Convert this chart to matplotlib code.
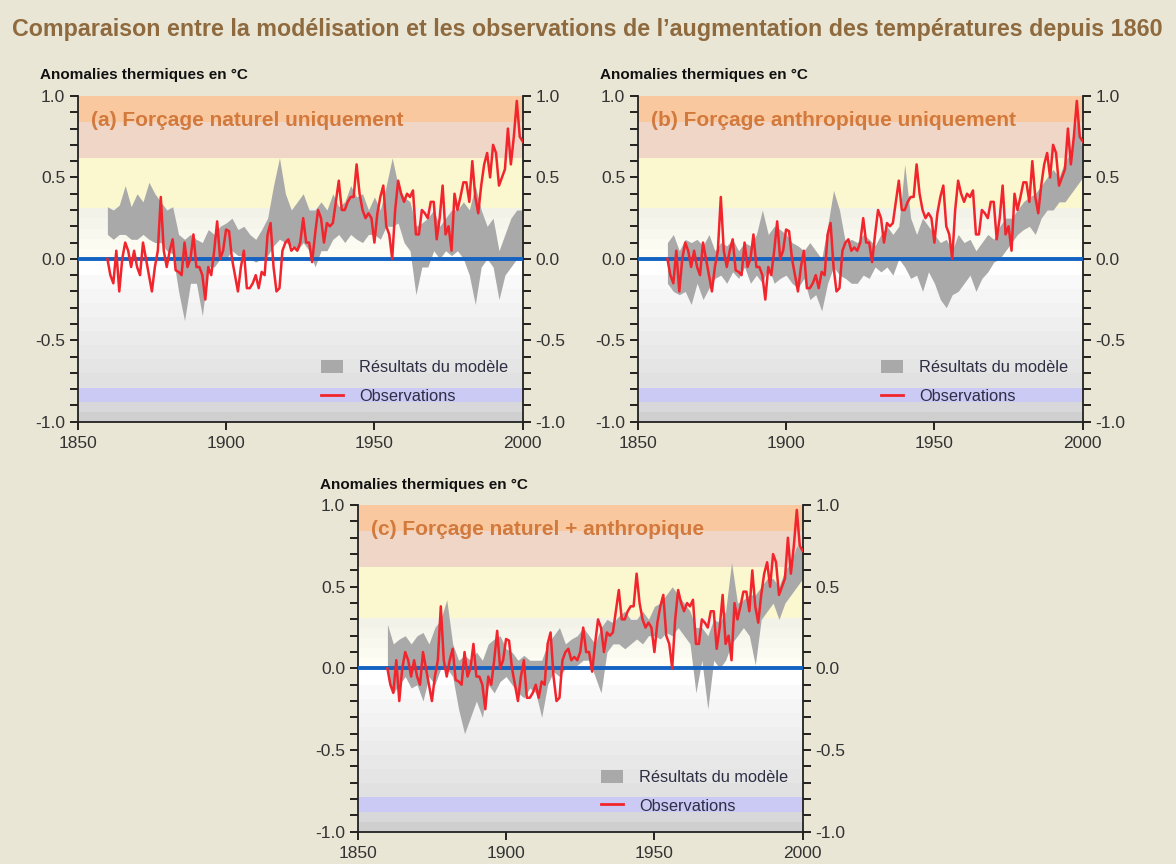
import numpy as np
import matplotlib.pyplot as plt
from matplotlib.patches import Patch
from matplotlib.lines import Line2D
from matplotlib.ticker import MultipleLocator

FONT = ['Liberation Sans Narrow', 'Liberation Sans', 'DejaVu Sans']
plt.rcParams['font.family'] = FONT

#%% data
obsYears = np.arange(1860, 2001)
observations = [
    0.00, -0.10, -0.15, 0.05, -0.20, 0.00, 0.10, 0.05, -0.05, 0.05,
    -0.05, -0.10, 0.10, 0.00, -0.10, -0.20, -0.05, 0.05, 0.38, 0.05,
    -0.05, 0.05, 0.12, -0.07, -0.08, -0.10, 0.10, -0.05, 0.00, 0.15,
    -0.05, -0.05, -0.10, -0.25, -0.05, -0.10, 0.05, 0.23, 0.00, 0.05,
    0.18, 0.17, 0.00, -0.10, -0.20, -0.05, 0.05, -0.18, -0.18, -0.15,
    -0.10, -0.18, -0.08, -0.10, 0.15, 0.22, -0.05, -0.20, -0.18, 0.05,
    0.10, 0.12, 0.05, 0.07, 0.05, 0.10, 0.25, 0.10, 0.10, -0.02,
    0.15, 0.30, 0.25, 0.10, 0.22, 0.20, 0.22, 0.35, 0.48, 0.30,
    0.30, 0.35, 0.38, 0.38, 0.58, 0.40, 0.30, 0.25, 0.28, 0.25,
    0.10, 0.28, 0.38, 0.45, 0.20, 0.15, 0.00, 0.30, 0.48, 0.40,
    0.35, 0.40, 0.38, 0.42, 0.15, 0.15, 0.30, 0.28, 0.25, 0.35,
    0.35, 0.12, 0.25, 0.45, 0.15, 0.20, 0.05, 0.40, 0.30, 0.38,
    0.47, 0.47, 0.35, 0.60, 0.38, 0.28, 0.45, 0.58, 0.65, 0.50,
    0.70, 0.65, 0.45, 0.50, 0.55, 0.80, 0.58, 0.75, 0.97, 0.75,
    0.72]

modelYears = np.arange(1860, 2001, 2)

natUpper = [0.32, 0.30, 0.33, 0.45, 0.32, 0.40, 0.35, 0.47, 0.40, 0.35,
            0.30, 0.32, 0.15, 0.12, 0.15, 0.12, 0.10, 0.18, 0.15, 0.20,
            0.22, 0.25, 0.18, 0.20, 0.15, 0.12, 0.18, 0.25, 0.45, 0.62,
            0.40, 0.30, 0.35, 0.40, 0.30, 0.30, 0.35, 0.30, 0.40, 0.32,
            0.35, 0.45, 0.38, 0.40, 0.30, 0.38, 0.30, 0.45, 0.62, 0.45,
            0.38, 0.35, 0.20, 0.22, 0.25, 0.30, 0.20, 0.25, 0.30, 0.30,
            0.35, 0.30, 0.45, 0.30, 0.20, 0.25, 0.05, 0.15, 0.25, 0.30,
            0.30]
natLower = [0.15, 0.12, 0.15, 0.15, 0.12, 0.12, 0.15, 0.12, 0.10, 0.10,
            0.05, 0.03, -0.20, -0.38, -0.15, -0.15, -0.35, -0.05, -0.05, 0.00,
            0.00, 0.05, 0.02, 0.02, 0.00, -0.02, 0.00, 0.02, 0.08, 0.12,
            0.10, 0.08, 0.05, 0.10, 0.05, -0.05, 0.05, 0.05, 0.12, 0.15,
            0.10, 0.15, 0.12, 0.10, 0.15, 0.15, 0.12, 0.20, 0.20, 0.22,
            0.10, 0.05, -0.22, -0.05, -0.05, 0.05, 0.00, 0.05, 0.02, 0.05,
            0.00, -0.10, -0.28, -0.05, 0.00, -0.05, -0.25, -0.10, -0.05, 0.00,
            0.00]

antUpper = [0.10, 0.15, 0.05, 0.12, 0.10, 0.12, 0.08, 0.15, 0.05, 0.10,
            0.08, 0.12, 0.05, 0.10, 0.08, 0.15, 0.30, 0.15, 0.20, 0.18,
            0.15, 0.10, 0.08, 0.05, 0.10, 0.05, 0.00, 0.20, 0.42, 0.30,
            0.10, 0.12, 0.10, 0.15, 0.12, 0.08, 0.15, 0.20, 0.15, 0.20,
            0.58, 0.25, 0.15, 0.25, 0.20, 0.15, 0.10, 0.12, 0.05, 0.15,
            0.10, 0.12, 0.05, 0.10, 0.15, 0.12, 0.20, 0.25, 0.25, 0.30,
            0.35, 0.38, 0.40, 0.45, 0.50, 0.55, 0.50, 0.60, 0.65, 0.85,
            0.65]
antLower = [-0.15, -0.20, -0.22, -0.20, -0.28, -0.15, -0.25, -0.18, -0.12, -0.10,
            -0.15, -0.08, -0.12, -0.05, -0.15, -0.10, -0.15, -0.05, -0.15, -0.12,
            -0.10, -0.15, -0.18, -0.12, -0.25, -0.22, -0.32, -0.15, -0.05, -0.10,
            -0.12, -0.15, -0.15, -0.10, -0.12, -0.05, -0.08, -0.05, -0.10, 0.00,
            -0.05, -0.12, -0.10, -0.20, -0.08, -0.15, -0.25, -0.30, -0.22, -0.20,
            -0.15, -0.10, -0.20, -0.12, -0.08, -0.02, 0.00, 0.05, 0.10, 0.15,
            0.18, 0.20, 0.15, 0.25, 0.30, 0.30, 0.35, 0.35, 0.40, 0.45,
            0.50]

allUpper = [0.27, 0.15, 0.18, 0.20, 0.15, 0.20, 0.22, 0.15, 0.25, 0.30,
            0.42, 0.15, 0.05, 0.08, 0.05, 0.10, 0.05, 0.15, 0.18, 0.20,
            0.12, 0.10, 0.05, 0.08, 0.05, 0.05, 0.05, 0.15, 0.20, 0.25,
            0.15, 0.18, 0.20, 0.25, 0.20, 0.15, 0.25, 0.30, 0.28, 0.32,
            0.35, 0.30, 0.30, 0.35, 0.30, 0.38, 0.40, 0.45, 0.50, 0.45,
            0.40, 0.35, 0.25, 0.25, 0.20, 0.30, 0.28, 0.35, 0.65, 0.40,
            0.42, 0.45, 0.45, 0.50, 0.55, 0.55, 0.50, 0.60, 0.65, 0.75,
            0.72]
allLower = [-0.05, -0.15, -0.10, -0.05, -0.12, -0.10, -0.20, -0.05, -0.10, 0.00,
            0.00, -0.05, -0.25, -0.40, -0.30, -0.20, -0.30, -0.10, -0.15, -0.08,
            -0.05, -0.10, -0.15, -0.18, -0.12, -0.15, -0.30, -0.10, -0.02, -0.05,
            0.00, 0.00, 0.02, 0.05, 0.05, -0.05, -0.15, 0.10, 0.15, 0.15,
            0.12, 0.15, 0.18, 0.15, 0.20, 0.20, 0.18, 0.22, 0.20, 0.25,
            0.20, 0.15, -0.15, 0.05, -0.25, 0.05, 0.00, 0.05, 0.15, 0.20,
            0.25, 0.20, 0.02, 0.30, 0.35, 0.40, 0.30, 0.40, 0.45, 0.50,
            0.55]

panelTitles = ['(a) Forçage naturel uniquement',
               '(b) Forçage anthropique uniquement',
               '(c) Forçage naturel + anthropique']
bandsUpper = [natUpper, antUpper, allUpper]
bandsLower = [natLower, antLower, allLower]

xTicks = [1850, 1900, 1950, 2000]
yTicks = [-1.0, -0.5, 0.0, 0.5, 1.0]

#%% figure
fig = plt.figure(figsize=(11.76, 8.64), dpi=100)
fig.patch.set_facecolor('#e9e6d6')

fig.text(0.010, 0.966, "Comparaison entre la modélisation et les observations de l\u2019augmentation des températures depuis 1860",
         fontsize=16.75, fontweight='bold', color='#8e6a3e', ha='left', va='center')

axPositions = [[0.0661, 0.5119, 0.3784, 0.377],
               [0.5423, 0.5119, 0.3784, 0.377],
               [0.3042, 0.0374, 0.3784, 0.378]]


def drawBackground(ax):
    ax.axhspan(0.84, 1.0, color='#f9c89e', lw=0, zorder=0)
    ax.axhspan(0.62, 0.84, color='#efd6c6', lw=0, zorder=0)
    ax.axhspan(0.31, 0.62, color='#fbf7cf', lw=0, zorder=0)
    # soft cream to white just above zero
    for k, y0 in enumerate(np.linspace(0.0, 0.31, 6)[:-1]):
        g = 1.0 - 0.012 * k
        ax.axhspan(y0, y0 + 0.062, color=(g, g * 0.995, g * 0.96), lw=0, zorder=0)
    # grey steps below zero
    steps = np.linspace(-0.1, -0.79, 9)
    ax.axhspan(-0.1, 0.0, color='#ffffff', lw=0, zorder=0)
    for k in range(len(steps) - 1):
        g = 0.975 - 0.013 * k
        ax.axhspan(steps[k + 1], steps[k], color=(g, g, g), lw=0, zorder=0)
    ax.axhspan(-0.88, -0.79, color='#cacaf4', lw=0, zorder=0)
    ax.axhspan(-0.94, -0.88, color='#d8d8da', lw=0, zorder=0)
    ax.axhspan(-1.0, -0.94, color='#cfcfd0', lw=0, zorder=0)


for i in range(3):
    ax = fig.add_axes(axPositions[i])
    ax.set_facecolor('white')
    drawBackground(ax)
    ax.fill_between(modelYears, bandsLower[i], bandsUpper[i], color='#a9a9a9', lw=0, zorder=2)
    ax.axhline(0.0, color='#1463c2', lw=2.8, zorder=3)
    ax.plot(obsYears, observations, color='#f2242c', lw=1.8, zorder=4)

    ax.set_xlim(1850, 2000)
    ax.set_ylim(-1.0, 1.0)
    ax.set_xticks(xTicks)
    ax.set_yticks(yTicks)
    ax.set_yticklabels([f'{v:.1f}' for v in yTicks])
    ax.yaxis.set_minor_locator(MultipleLocator(0.1))
    ax.tick_params(axis='y', which='both', direction='out', length=6, width=1.2,
                   left=True, right=True, labelleft=True, labelright=True,
                   labelsize=12.5, labelcolor='#333333', pad=3)
    ax.tick_params(axis='x', which='major', direction='out', length=6, width=1.2,
                   labelsize=12.5, labelcolor='#333333', pad=4.5)
    ax.spines['top'].set_visible(False)
    for s in ['left', 'right', 'bottom']:
        ax.spines[s].set_linewidth(1.3)
        ax.spines[s].set_color('#222222')

    ax.text(0.03, 0.925, panelTitles[i], transform=ax.transAxes, fontsize=15,
            fontweight='bold', color='#d27a3e', ha='left', va='center', zorder=5)
    ax.text(-0.085, 1.063, 'Anomalies thermiques en °C', transform=ax.transAxes,
            fontsize=11, fontweight='bold', color='#111111', ha='left', va='center')

    handles = [Patch(facecolor='#a9a9a9', edgecolor='none'),
               Line2D([0], [0], color='#f2242c', lw=2)]
    ax.legend(handles, ['Résultats du modèle', 'Observations'], loc='lower right',
              bbox_to_anchor=(0.967, 0.055), frameon=False, fontsize=11.8,
              labelcolor='#2e2e44', handlelength=1.3, handleheight=0.9,
              handletextpad=1.0, labelspacing=0.8, borderpad=0, borderaxespad=0)

fig.savefig('out.png', dpi=100, facecolor=fig.get_facecolor())
